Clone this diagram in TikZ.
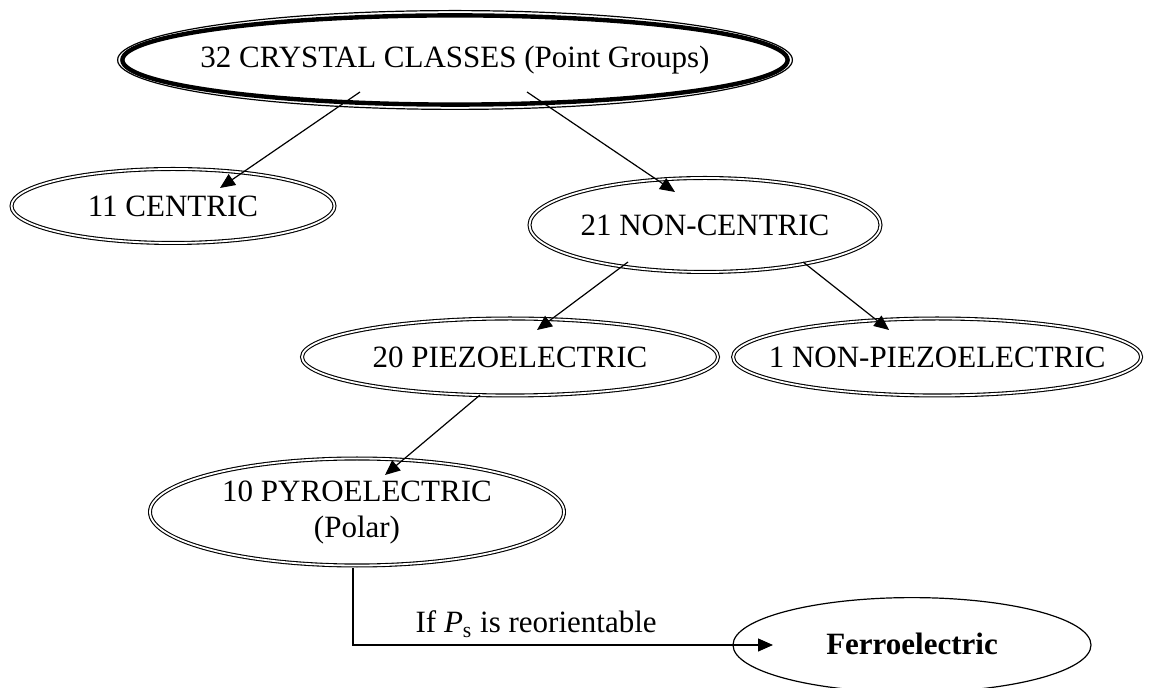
\documentclass[tikz,border=0pt]{standalone}
\usepackage{fontspec}
\setmainfont{Liberation Serif}
\usetikzlibrary{shapes.geometric, arrows.meta, positioning, calc}
\newcommand{\ctr}[2][0pt]{\makebox[0pt]{\raisebox{#1}{#2}}}
\tikzset{
	thinell/.style={ellipse, draw=black, line width=0.6pt, inner sep=0pt},
	dblell/.style ={ellipse, draw=black, double, line width=0.55pt, double distance=0.9pt, inner sep=0pt},
	sig/.style    ={-{Triangle[length=7.5pt, width=6.5pt]}, line width=0.6pt},
}

\begin{document}
\begin{tikzpicture}[x=0.5pt, y=-0.5pt, font=\fontsize{15.5}{18}\selectfont]
	\useasboundingbox (0,0) rectangle (1160,688);
	% classes
	\node[thinell, minimum width=337.4pt, minimum height=49.4pt] (top) at (455,60) {\ctr[-4pt]{32 CRYSTAL CLASSES (Point Groups)}};
	\draw[line width=2.2pt] (top.center) ellipse [x radius=166.3pt, y radius=22.3pt];
	\node[dblell, minimum width=161.5pt, minimum height=37pt] (cen) at (173,206) {\ctr[-2pt]{11 CENTRIC}};
	\node[dblell, minimum width=175.5pt, minimum height=47pt] (ncen) at (705,225) {\ctr{21 NON-CENTRIC}};
	\node[dblell, minimum width=208pt, minimum height=38.5pt] (piezo) at (510,357) {\ctr{20 PIEZOELECTRIC}};
	\node[dblell, minimum width=204pt, minimum height=38.5pt, right=7pt of piezo] (npiezo) {\ctr{1 NON-PIEZOELECTRIC}};
	\node[dblell, minimum width=207pt, minimum height=53.5pt] (pyro) at (357,512) {\ctr[-6pt]{\begin{tabular}{@{}c@{}}10 PYROELECTRIC\\ (Polar)\end{tabular}}};
	\node[thinell, minimum width=179pt, minimum height=47.4pt] (ferro) at (912,645) {\ctr[1pt]{\bfseries Ferroelectric}};
	% arrows
	\draw[sig] ($(top)+(-95,32)$) -- ($(cen)+(47,-18)$);
	\draw[sig] ($(top)+(72,32)$) -- ($(ncen)+(-30,-33)$);
	\draw[sig] ($(ncen)+(-77,37)$) -- ($(piezo)+(27,-27)$);
	\draw[sig] ($(ncen)+(98,37)$) -- ($(npiezo)+(-48,-27)$);
	\draw[sig] ($(piezo)+(-30,38)$) -- ($(pyro)+(28,-37)$);
	\draw[sig] ($(pyro)+(-4,56)$) |- node[pos=0.718, above, inner sep=3.5pt] (cond) {If \textit{P}\textsubscript{s} is reorientable} ($(ferro)+(-139,0)$);
\end{tikzpicture}
\end{document}
